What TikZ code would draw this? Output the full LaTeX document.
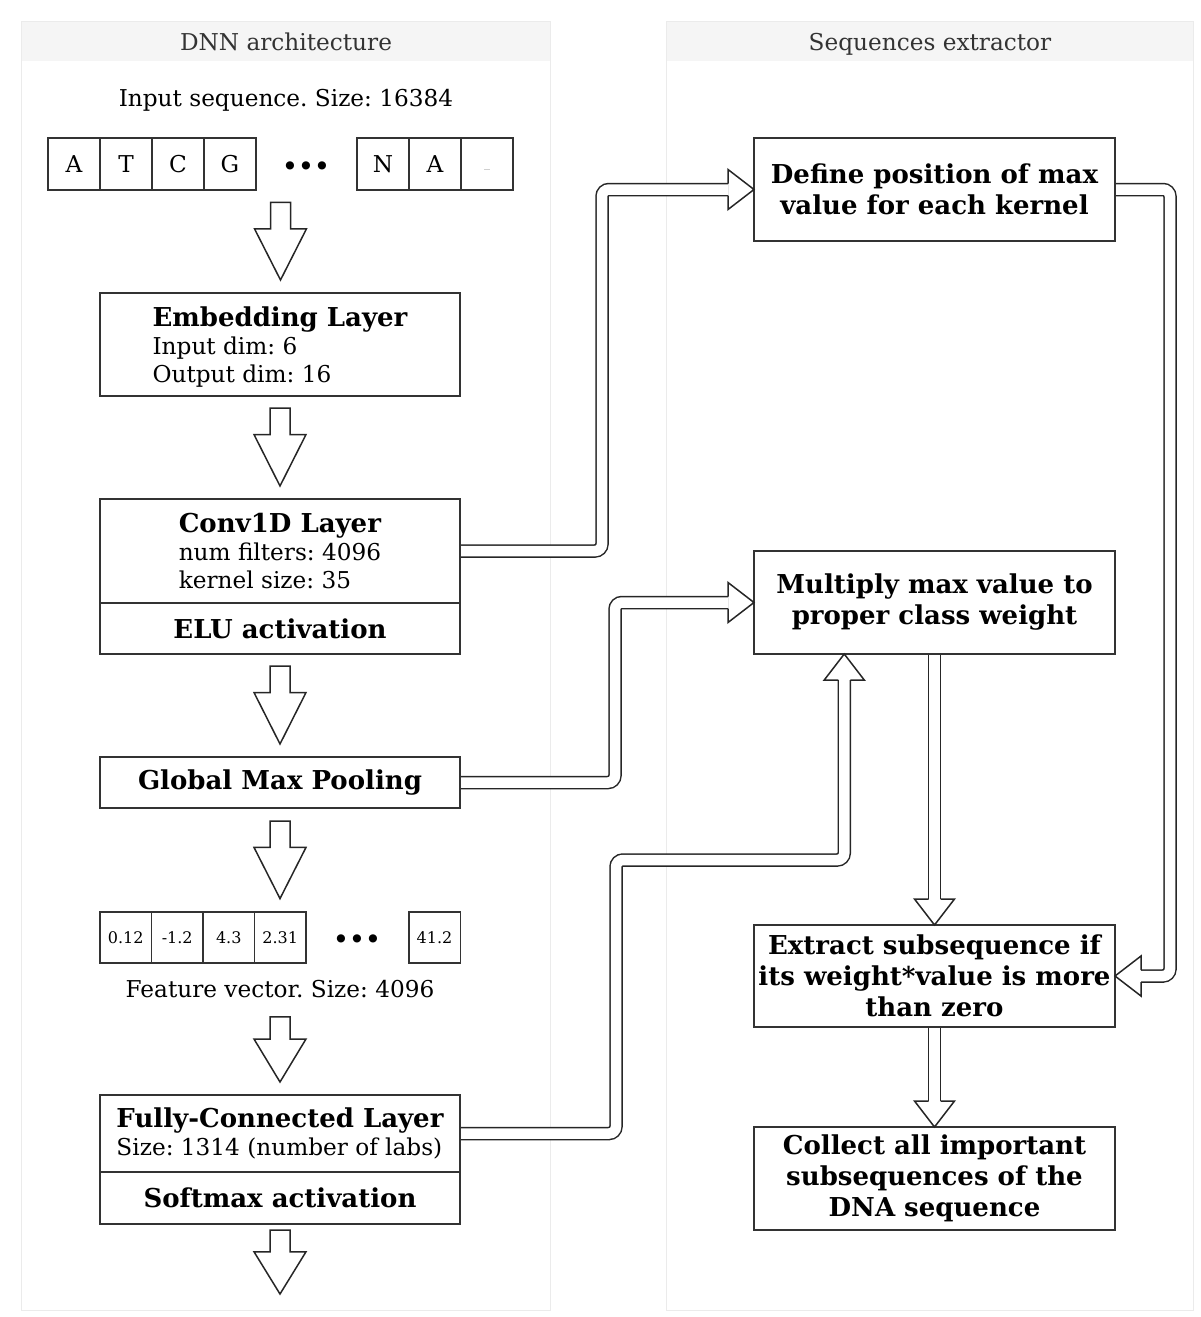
\documentclass[tikz,border=0pt]{standalone}
\usepackage{fontspec}
\setmainfont{DejaVu Serif}
\usetikzlibrary{positioning,calc,fit,backgrounds}
\newcommand{\basefont}{\fontsize{11.6}{14}\selectfont}
\newcommand{\headfont}{\fontsize{13}{14}\selectfont\bfseries}
\newcommand{\fatdown}[2]{%
  \draw[fat] let \p1=#1, \p2=#2, \p3=($(\p2)!0.66!(\p1)$) in
    (\x1-5pt,\y1) -- (\x1+5pt,\y1) -- (\x1+5pt,\y3) -- (\x1+13pt,\y3)
    -- (\x1,\y2) -- (\x1-13pt,\y3) -- (\x1-5pt,\y3) -- cycle;}
\newcommand{\flexhead}[2]{%
  \draw[flexhd, shift={(#1)}, rotate=#2]
    (-13pt,3pt) -- (-13pt,10pt) -- (0pt,0pt) -- (-13pt,-10pt) -- (-13pt,-3pt);}
\tikzset{
  layer/.style  ={rectangle, draw=black!80, fill=white, line width=0.75pt,
                  inner sep=0pt, outer sep=0pt, minimum width=180pt, align=left},
  proc/.style   ={rectangle, draw=black!80, fill=white, line width=0.75pt,
                  inner sep=0pt, outer sep=0pt, minimum width=180.5pt,
                  minimum height=51.5pt, align=center,
                  font=\bfseries\fontsize{13}{15.5}\selectfont},
  cell/.style   ={rectangle, draw=black!80, line width=0.75pt,
                  minimum size=26pt, inner sep=0pt, outer sep=0pt},
  fcell/.style  ={cell, minimum width=25.75pt, minimum height=25.5pt,
                  font=\fontsize{8}{9}\selectfont},
  lanehd/.style ={rectangle, fill=black!4, minimum width=264pt,
                  minimum height=19.5pt, inner sep=0pt, text depth=0pt,
                  text=black!80},
  lanebd/.style ={draw=black!8, line width=0.5pt},
  flex/.style   ={draw=black!85, line width=0.75pt, double=white,
                  double distance=5.25pt, rounded corners=3.5pt},
  flexhd/.style ={draw=black!85, line width=0.75pt, line join=miter},
  fat/.style    ={draw=black!85, line width=0.75pt, fill=white},
  dots/.style   ={inner sep=0pt, yshift=-2pt, font=\basefont\bfseries},
}
\begin{document}
\frenchspacing
\begin{tikzpicture}[x=0.5pt, y=-0.5pt, font=\basefont]
\useasboundingbox (0,0) rectangle (1200,1317);
% swimlanes
\node[lanehd] (dnnhd) at (286,41.5) {DNN architecture};
\node[lanehd, minimum width=263pt] (exthd) at (930,41.5) {Sequences extractor};
\begin{scope}[on background layer]
\draw[lanebd] (dnnhd.north west) rectangle (550,1310);
\draw[lanebd] (exthd.north west) rectangle (1193,1310);
\end{scope}

% DNN column
\node (inlbl) at (286,100) {Input sequence. Size: 16384};
\node[cell] (sA) at (74,164) {A};
\node[cell, right=0pt of sA] (sT) {T};
\node[cell, right=0pt of sT] (sC) {C};
\node[cell, right=0pt of sC] (sG) {G};
\node[dots] (sdots) at (306,164) {•\kern0.6pt•\kern0.6pt•};
\node[cell] (sN) at (383,164) {N};
\node[cell, right=0pt of sN] (sA2) {A};
\node[cell, right=0pt of sA2, font=\fontsize{6}{7}\selectfont, text=black!40] (sgap) {\raisebox{-5pt}{\_}};
\node[fit=(sA)(sgap), inner sep=0pt] (seq) {};

\node[layer, minimum height=51.5pt] (emb) at (280,344.5)
  {\rule{0pt}{12.5pt}{\headfont Embedding Layer}\\Input dim: 6\\Output dim: 16};
\node[layer, minimum height=52pt] (conv) at (280,551)
  {{\headfont Conv1D Layer}\\num filters: 4096\\kernel size: 35};
\node[layer, below=0pt of conv, minimum height=25.5pt, align=center,
  font=\headfont] (elu) {ELU activation};
\node[layer, minimum height=25.5pt, align=center, font=\headfont]
  (gmp) at (280,782.5) {Global Max Pooling};

\node[fcell] (f1) at (125.75,937.5) {0.12};
\node[fcell, right=0pt of f1] (f2) {-1.2};
\node[fcell, right=0pt of f2] (f3) {4.3};
\node[fcell, right=0pt of f3] (f4) {2.31};
\node[dots] (fdots) at (357,937.5) {•\kern0.6pt•\kern0.6pt•};
\node[fcell] (f6) at (434.5,937.5) {41.2};
\node[fit=(f1)(f6), inner sep=0pt] (feat) {};
\node (featlbl) at (280,989) {Feature vector. Size: 4096};

\node[layer, minimum height=38.5pt] (fc) at (280,1133.5)
  {{\headfont Fully-Connected Layer}\\Size: 1314 (number of labs)};
\node[layer, below=0pt of fc, minimum height=26pt, align=center,
  font=\headfont] (sm) {Softmax activation};
\coordinate (out) at ($(sm.south)+(0,70)$);

% extractor column
\node[proc] (define) at (934.5,189.5) {Define position of max\\value for each kernel};
\node[proc] (mult) at (934.5,602.5) {Multiply max value to\\proper class weight};
\node[proc, minimum height=51pt] (extr) at (934.5,976)
  {Extract subsequence if\\its weight*value is more\\than zero};
\node[proc] (coll) at (934.5,1178.5)
  {Collect all important\\subsequences of the\\DNA sequence};
\coordinate (multin) at ($(mult.south west)!0.25!(mult.south east)$);

% block arrows down the network
\fatdown{($(seq.south)+(0,12)$)}{($(emb.north)+(0,-13)$)}
\fatdown{($(emb.south)+(0,12)$)}{($(conv.north)+(0,-13)$)}
\fatdown{($(elu.south)+(0,12)$)}{($(gmp.north)+(0,-13)$)}
\fatdown{($(gmp.south)+(0,13)$)}{($(feat.north)+(0,-13)$)}
\fatdown{($(featlbl.south)+(0,12)$)}{($(fc.north)+(0,-13)$)}
\fatdown{($(sm.south)+(0,6)$)}{(out)}

% flow arrows
\begin{scope}[on background layer]
\draw[flex] (conv.east) -- ++(142,0) |- ($(define.west)+(-26,0)$);
\draw[flex] (gmp.east) -- ++(155,0) |- ($(mult.west)+(-26,0)$);
\draw[flex] (fc.east) -- ++(156,0) |- ($(multin)+(0,206)$) -- ($(multin)+(0,26)$);
\draw[flex] (mult.south) -- ($(extr.north)+(0,-26)$);
\draw[flex] (extr.south) -- ($(coll.north)+(0,-26)$);
\draw[flex] (define.east) -- ++(55,0) |- ($(extr.east)+(26,0)$);
\end{scope}
\flexhead{define.west}{0}
\flexhead{mult.west}{0}
\flexhead{multin}{90}
\flexhead{extr.north}{-90}
\flexhead{coll.north}{-90}
\flexhead{extr.east}{180}
\end{tikzpicture}
\end{document}
